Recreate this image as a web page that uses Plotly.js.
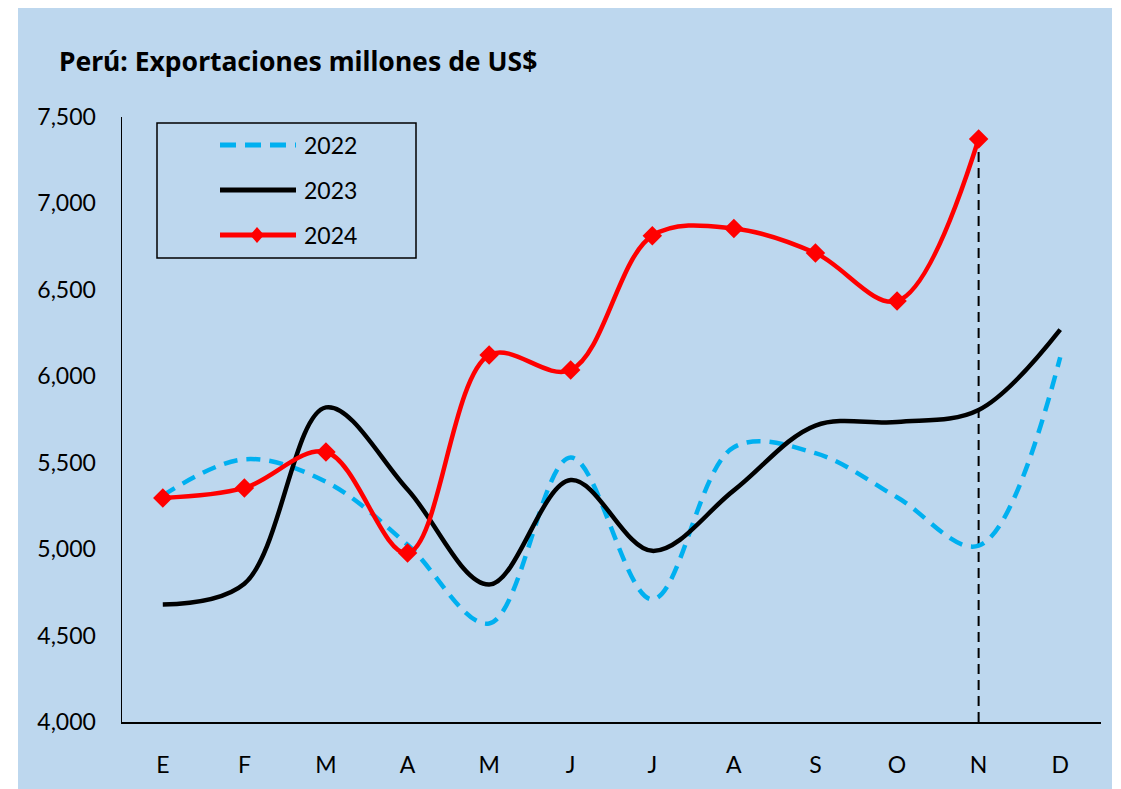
<!DOCTYPE html>
<html>
<head>
<meta charset="utf-8">
<script src="https://cdn.plot.ly/plotly-3.0.1.min.js"></script>
<style>html,body{margin:0;padding:0;background:#fff;}#chart{width:1121px;height:789px;}</style>
</head>
<body>
<div id="chart"></div>
<script>
const months = ['E','F','M','A','M','J','J','A','S','O','N','D'];
const seriesNames = ['2022','2023','2024'];
const v2022 = [5310, 5520, 5390, 5025, 4570, 5530, 4710, 5590, 5555, 5300, 5020, 6110];
const v2023 = [4680, 4800, 5820, 5345, 4795, 5400, 4990, 5340, 5715, 5735, 5805, 6270];
const v2024 = [5296, 5354, 5562, 4977, 6123, 6036, 6813, 6855, 6713, 6435, 7373];
const yTicks = [4000, 4500, 5000, 5500, 6000, 6500, 7000, 7500];
const markIndex = 10; // N

const xIdx = months.map((_, i) => i);
const FONT = 'Lato, "Noto Sans", sans-serif';
const colors = {c2022: '#00B0F0', c2023: '#000000', c2024: '#FF0000'};

// pixel -> paper helpers (plot area: x 122..1101, y 117..722)
const L = 122, R = 1101, T = 117, B = 722;
const px = X => (X - L) / (R - L);
const py = Y => (B - Y) / (B - T);

const traces = [
  {x: [xIdx[markIndex], xIdx[markIndex]], y: [yTicks[0], v2024[markIndex]], mode: 'lines',
   line: {color: '#000', width: 2, dash: '10px,6px'}, showlegend: false, hoverinfo: 'skip'},
  {x: xIdx, y: v2022, name: seriesNames[0], mode: 'lines',
   line: {color: colors.c2022, width: 4.5, dash: '14px,9px', shape: 'spline', smoothing: 1}},
  {x: xIdx, y: v2023, name: seriesNames[1], mode: 'lines',
   line: {color: colors.c2023, width: 4.5, shape: 'spline', smoothing: 1}},
  {x: xIdx.slice(0, v2024.length), y: v2024, name: seriesNames[2], mode: 'lines+markers',
   line: {color: colors.c2024, width: 4.5, shape: 'spline', smoothing: 1},
   marker: {symbol: 'diamond', size: 15, color: colors.c2024}}
];

// legend built manually
const legRows = [145, 190, 235];
const shapes = [
  {type: 'rect', xref: 'paper', yref: 'paper', x0: px(18), x1: px(1112), y0: py(789), y1: py(8),
   fillcolor: '#BDD7EE', line: {width: 0}, layer: 'below'},
  {type: 'rect', xref: 'paper', yref: 'paper', x0: px(157), x1: px(416), y0: py(258), y1: py(123),
   line: {color: '#000', width: 1.5}, fillcolor: 'rgba(0,0,0,0)'},
  {type: 'line', xref: 'paper', yref: 'paper', x0: px(220), x1: px(296), y0: py(legRows[0]), y1: py(legRows[0]),
   line: {color: colors.c2022, width: 5, dash: '16px,9px'}},
  {type: 'line', xref: 'paper', yref: 'paper', x0: px(220), x1: px(296), y0: py(legRows[1]), y1: py(legRows[1]),
   line: {color: colors.c2023, width: 5}},
  {type: 'line', xref: 'paper', yref: 'paper', x0: px(220), x1: px(296), y0: py(legRows[2]), y1: py(legRows[2]),
   line: {color: colors.c2024, width: 5}},
  {type: 'path', xref: 'paper', yref: 'paper',
   path: `M${px(257)},${py(legRows[2]-8)} L${px(264)},${py(legRows[2])} L${px(257)},${py(legRows[2]+8)} L${px(250)},${py(legRows[2])} Z`,
   fillcolor: colors.c2024, line: {width: 0}}
];
const annotations = seriesNames.map((n, i) => ({
  xref: 'paper', yref: 'paper', x: px(302), y: py(legRows[i]), xanchor: 'left', yanchor: 'middle',
  text: n, showarrow: false, font: {family: FONT, size: 23, color: '#000'}
}));

const layout = {
  width: 1121, height: 789,
  margin: {l: L, r: 1121 - R, t: T, b: 789 - B, pad: 0},
  paper_bgcolor: '#FFFFFF', plot_bgcolor: 'rgba(0,0,0,0)',
  showlegend: false,
  title: {text: 'Perú: Exportaciones millones de US$', xref: 'container', yref: 'container',
          x: 59 / 1121, xanchor: 'left', y: 1 - 62 / 789, yanchor: 'middle',
          font: {family: '"Noto Sans", Lato, sans-serif', size: 26.5, color: '#000', weight: 'bold'}},
  xaxis: {range: [-0.5, 11.5], tickmode: 'array', tickvals: xIdx, ticktext: months,
          showgrid: false, zeroline: false, showline: true, linecolor: '#000', linewidth: 1.5,
          ticks: '', ticklabelstandoff: 22, tickfont: {family: FONT, size: 23, color: '#000'}, fixedrange: true},
  yaxis: {range: [4000, 7500], tickmode: 'array', tickvals: yTicks,
          ticktext: yTicks.map(v => v.toLocaleString('en-US')),
          showgrid: false, zeroline: false, showline: true, linecolor: '#000', linewidth: 1.5,
          ticks: '', ticklabelstandoff: 20, tickfont: {family: FONT, size: 23, color: '#000'}, fixedrange: true},
  shapes: shapes,
  annotations: annotations
};

Plotly.newPlot('chart', traces, layout, {displayModeBar: false, staticPlot: true});
</script>
</body>
</html>
